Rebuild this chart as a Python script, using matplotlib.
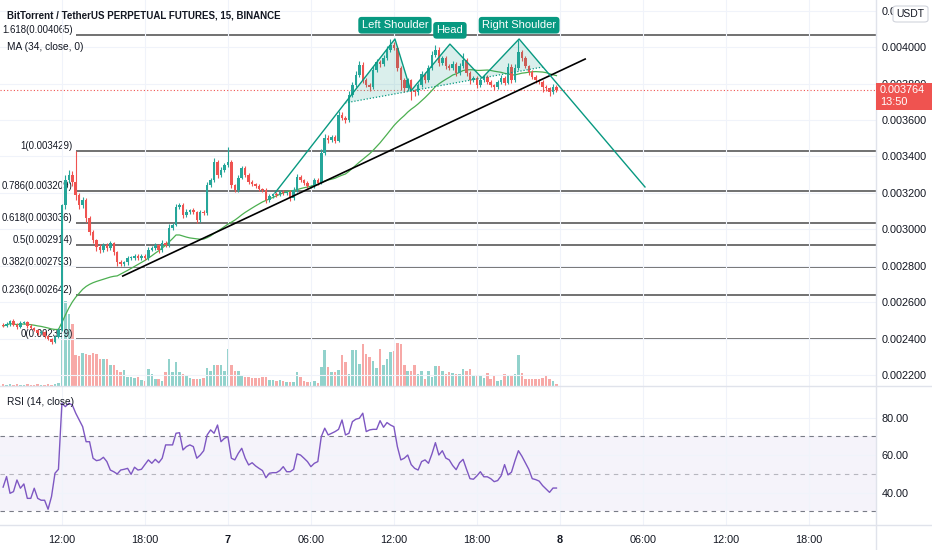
import numpy as np
import pandas as pd
import matplotlib
matplotlib.use("Agg")
import matplotlib.pyplot as plt
from matplotlib.lines import Line2D
from matplotlib.patches import Rectangle, FancyBboxPatch

plt.rcParams['font.family'] = ['Liberation Sans', 'DejaVu Sans']

# ---- data (15m candles, first candle 07:45 on the 6th) ----
first_hour = 7.75
bars_per_hour = 4

close = [
    0.002471, 0.002482, 0.002498, 0.002477, 0.002466, 0.002488, 0.002493, 0.002471, 0.002460, 0.002449,
    0.002433, 0.002438, 0.002416, 0.002400, 0.002383, 0.002411, 0.002449, 0.003134, 0.003271, 0.003299,
    0.003260, 0.003189, 0.003134, 0.003162, 0.003063, 0.002986, 0.002942, 0.002904, 0.002888, 0.002915,
    0.002899, 0.002926, 0.002877, 0.002822, 0.002811, 0.002822, 0.002844, 0.002844, 0.002855, 0.002844,
    0.002855, 0.002844, 0.002888, 0.002899, 0.002915, 0.002888, 0.002926, 0.002915, 0.003008, 0.003025,
    0.003123, 0.003134, 0.003079, 0.003096, 0.003107, 0.003096, 0.003052, 0.003096, 0.003090, 0.003244,
    0.003271, 0.003370, 0.003299, 0.003326, 0.003353, 0.003370, 0.003244, 0.003216, 0.003282, 0.003337,
    0.003299, 0.003260, 0.003249, 0.003238, 0.003222, 0.003216, 0.003162, 0.003183, 0.003194, 0.003189,
    0.003205, 0.003200, 0.003205, 0.003173, 0.003216, 0.003288, 0.003271, 0.003255, 0.003238, 0.003238,
    0.003271, 0.003255, 0.003419, 0.003501, 0.003490, 0.003507, 0.003485, 0.003627, 0.003611, 0.003600,
    0.003737, 0.003792, 0.003847, 0.003901, 0.003819, 0.003792, 0.003781, 0.003874, 0.003918, 0.003907,
    0.003940, 0.003984, 0.004011, 0.003995, 0.003885, 0.003819, 0.003775, 0.003819, 0.003759, 0.003753,
    0.003792, 0.003852, 0.003819, 0.003885, 0.003956, 0.003984, 0.003912, 0.003940, 0.003896, 0.003885,
    0.003907, 0.003858, 0.003896, 0.003929, 0.003858, 0.003819, 0.003830, 0.003792, 0.003819, 0.003836,
    0.003808, 0.003792, 0.003781, 0.003808, 0.003830, 0.003803, 0.003890, 0.003819, 0.003885, 0.003973,
    0.003940, 0.003896, 0.003863, 0.003836, 0.003819, 0.003808, 0.003781, 0.003775, 0.003753, 0.003781,
    0.003764,
]
first_open = 0.002477

# wick lengths beyond the body, in millionths
upper_wick = [
    8, 10, 6, 10, 8, 12, 6, 8, 10, 6, 8, 12, 6, 8, 6, 10, 12,
    8, 30, 25, 20, 169,
    10, 15, 8, 12, 10, 8, 15, 12, 10,
    12, 8, 6, 10, 8, 12, 8, 10, 8, 10,
    8, 15, 10, 12, 8, 15, 10, 20, 12, 15,
    12, 10, 15, 8, 10, 8, 12, 10, 15, 12,
    20, 12, 15, 10, 82, 10, 8, 15, 12, 10,
    8, 10, 8, 10, 8, 10, 12, 8, 10, 12,
    10, 8, 12, 15, 15, 10, 8, 10, 8, 12,
    10, 20, 25, 15, 12, 10, 20, 15, 12, 20,
    15, 20, 25, 15, 12, 10, 20, 15, 12, 15,
    20, 33, 15, 10, 12, 10, 12, 8, 10, 12,
    15, 12, 15, 20, 25, 15, 12, 10, 12, 15,
    10, 15, 38, 12, 10, 12, 10, 12, 10, 12,
    10, 8, 12, 15, 10, 20, 15, 20, 65, 12,
    10, 8, 10, 12, 8, 10, 10, 8, 15, 10,
]
lower_wick = [
    6, 8, 10, 8, 12, 6, 8, 10, 6, 8, 10, 8, 12, 8, 10, 6, 8,
    5, 20, 15, 20, 25,
    20, 15, 20, 15, 15, 20, 15, 12, 15,
    10, 15, 20, 12, 10, 15, 12, 10, 12, 10,
    12, 10, 8, 12, 15, 10, 12, 10, 12, 8,
    10, 15, 10, 12, 10, 15, 12, 10, 8, 10,
    10, 15, 12, 10, 12, 15, 12, 10, 8, 12,
    10, 12, 10, 12, 10, 15, 10, 12, 10, 8,
    12, 10, 15, 10, 8, 12, 10, 12, 10, 8,
    10, 8, 10, 15, 12, 10, 8, 12, 15, 10,
    10, 12, 10, 15, 12, 20, 10, 12, 15, 10,
    12, 10, 10, 15, 55, 20, 15, 49, 20, 15,
    10, 15, 12, 10, 12, 15, 12, 15, 12, 10,
    15, 12, 10, 15, 20, 12, 15, 10, 12, 10,
    12, 15, 10, 12, 10, 8, 15, 10, 12, 15,
    12, 15, 12, 15, 12, 25, 15, 20, 10, 12,
]

volume = [
    2, 1, 2, 1, 2, 1, 1, 2, 1, 1, 2, 1, 1, 2, 1, 2, 3,
    92, 85, 72, 62, 31,
    30, 33, 32, 31, 33, 32, 27, 27, 27,
    21, 21, 16, 14, 16, 9, 9, 8, 9, 6,
    5, 17, 12, 7, 7, 5, 14, 27, 14, 24,
    14, 12, 10, 8, 7, 7, 7, 8, 18, 15,
    21, 21, 21, 15, 37, 21, 15, 15, 11, 9,
    9, 8, 8, 8, 9, 9, 6, 6, 5, 6,
    5, 4, 4, 4, 14, 9, 5, 4, 4, 5,
    3, 19, 36, 19, 14, 14, 16, 31, 24, 12,
    36, 36, 22, 42, 32, 29, 25, 18, 37, 21,
    27, 34, 35, 43, 42, 21, 15, 15, 21, 12,
    15, 7, 15, 9, 20, 20, 15, 12, 14, 13,
    12, 12, 17, 15, 17, 11, 10, 11, 8, 13,
    7, 11, 5, 6, 12, 11, 10, 12, 31, 13,
    7, 7, 7, 7, 7, 8, 11, 7, 5, 2,
]

rsi = [
    43.0, 48.6, 39.7, 40.6, 46.8, 42.4, 44.7, 37.0, 37.0, 42.4,
    37.0, 36.0, 36.0, 31.2, 38.0, 50.4, 52.5, 87.7, 85.9, 87.7,
    86.8, 82.4, 78.8, 75.2, 67.2, 67.2, 58.4, 57.1, 57.5, 58.9,
    56.6, 52.1, 51.2, 50.0, 52.1, 52.5, 53.0, 49.8, 53.6, 52.1,
    52.5, 55.0, 57.5, 55.7, 57.8, 56.0, 58.4, 65.5, 65.5, 65.5,
    71.7, 72.0, 62.8, 64.6, 65.5, 64.6, 58.4, 60.1, 62.4, 70.8,
    73.5, 71.7, 76.1, 67.2, 69.0, 69.9, 58.4, 57.5, 61.0, 63.7,
    58.4, 54.8, 56.0, 54.3, 53.0, 51.8, 48.0, 50.4, 50.7, 50.7,
    51.8, 53.9, 51.2, 51.2, 52.5, 60.7, 60.1, 58.4, 56.6, 53.9,
    55.7, 56.6, 69.9, 74.4, 70.8, 71.7, 72.6, 73.8, 78.8, 70.8,
    71.7, 77.9, 79.2, 79.7, 82.4, 72.6, 73.5, 73.8, 73.8, 78.4,
    74.9, 77.4, 76.1, 75.2, 64.6, 57.5, 58.4, 60.1, 55.0, 53.0,
    52.1, 56.6, 57.5, 55.7, 60.7, 66.7, 60.1, 62.4, 58.5, 57.5,
    54.5, 52.3, 56.0, 57.8, 52.5, 47.5, 47.2, 49.0, 51.2, 48.5,
    48.5, 47.5, 45.9, 46.5, 49.0, 55.0, 49.5, 51.0, 57.0, 62.4,
    59.5, 56.0, 52.5, 47.5, 47.0, 46.2, 43.8, 42.0, 40.2, 42.5,
    42.5,
]

# fib retracement anchored on the swing high candle
fib_levels = ["0", "0.236", "0.382", "0.5", "0.618", "0.786", "1", "1.618"]
fib_prices = [0.002399, 0.002642, 0.002793, 0.002914, 0.003036, 0.003209, 0.003429, 0.004065]
fib_start = 21

# head & shoulders drawing (bar index, price)
hs_idx = [78.6, 113.3, 117.9, 129.2, 138.5, 149.2, 185.6]
hs_px = [0.003200, 0.004044, 0.003759, 0.004016, 0.003830, 0.004044, 0.003233]
hs_labels = ["Left Shoulder", "Head", "Right Shoulder"]

# rising trend line
trend_idx = [34.6, 168.3]
trend_px = [0.002745, 0.003934]

tick_hours = [12, 18, 24, 30, 36, 42, 48, 54, 60, 66]
tick_labels = ["12:00", "18:00", "7", "06:00", "12:00", "18:00", "8", "06:00", "12:00", "18:00"]
price_ticks = [0.0022, 0.0024, 0.0026, 0.0028, 0.0030, 0.0032, 0.0034, 0.0036, 0.0038, 0.0040, 0.0042]
rsi_ticks = [40, 60, 80]

UP = '#26a69a'
DOWN = '#ef5350'
PAT = '#089981'
GRID = '#f0f3fa'
SEP = '#e0e3eb'
TXT = '#131722'

# ---- derived series ----
close = np.array(close)
opens = np.r_[first_open, close[:-1]]
high = np.maximum(opens, close) + np.array(upper_wick) * 1e-6
low = np.minimum(opens, close) - np.array(lower_wick) * 1e-6
idx = np.arange(len(close))
is_up = close >= opens
colors = np.where(is_up, UP, DOWN)
vol_colors = np.where(is_up, '#92d2cc', '#f7a9a7')
ma = pd.Series(close).rolling(34, min_periods=1).mean()

W, H = 932, 550
fig = plt.figure(figsize=(W / 100, H / 100), dpi=100)


def frame(x0, y0, x1, y1):
    return [x0 / W, 1 - y1 / H, (x1 - x0) / W, (y1 - y0) / H]


ax = fig.add_axes(frame(0, 0, 876, 386))
ax_rsi = fig.add_axes(frame(0, 386, 876, 525), sharex=ax)
vol_ax = ax.twinx()
ax.set_zorder(vol_ax.get_zorder() + 1)
ax.patch.set_visible(False)

x_left, x_right = -0.9, 252.4
ax.set_xlim(x_left, x_right)
ax.set_ylim(0.0021423, 0.0042576)
ax_rsi.set_ylim(22.8, 96.9)

# volume
vol_ax.bar(idx, volume, width=0.72, color=vol_colors, linewidth=0)
vol_ax.set_ylim(0, max(volume) * 4.2)
vol_ax.set_yticks([])
for s in vol_ax.spines.values():
    s.set_visible(False)

# grid + ticks
tick_pos = [(h - first_hour) * bars_per_hour for h in tick_hours]
ax_rsi.set_xticks(tick_pos)
ax_rsi.set_xticklabels(tick_labels)
for lab, txt in zip(ax_rsi.get_xticklabels(), tick_labels):
    if ':' not in txt:
        lab.set_fontweight('bold')
ax.set_yticks(price_ticks)
ax.set_yticklabels([f"{p:.6f}" for p in price_ticks])
ax.yaxis.tick_right()
ax_rsi.set_yticks(rsi_ticks)
ax_rsi.set_yticklabels([f"{v:.2f}" for v in rsi_ticks])
ax_rsi.yaxis.tick_right()
for a in (ax, ax_rsi):
    a.grid(True, color=GRID, lw=0.8, zorder=0)
    a.tick_params(length=0, labelsize=7.8, colors=TXT, pad=4)
    for s in a.spines.values():
        s.set_visible(False)
ax.tick_params(labelbottom=False)
ax_rsi.tick_params(axis='x', pad=7)

# fib levels
ax.hlines(fib_prices, fib_start, x_right, colors='#4a4a4a', lw=1.1, zorder=1)
for lvl, p in zip(fib_levels, fib_prices):
    ax.text(fib_start - 0.9, p, f"{lvl}({p:.6f})", ha='right', va='bottom',
            fontsize=6.9, color=TXT, zorder=1.5)

# MA
ax.plot(idx, ma, color='#4caf50', lw=0.9, zorder=3)

# candles
ax.vlines(idx, low, high, colors=colors, lw=0.8, zorder=4)
body = np.maximum(np.abs(close - opens), 3e-6)
ax.bar(idx, body, bottom=np.minimum(opens, close), width=0.72, color=colors, linewidth=0, zorder=4)

# last price line
ax.axhline(close[-1], color=DOWN, ls=(0, (1, 2)), lw=0.8, zorder=2)

# trend line
ax.plot(trend_idx, trend_px, color='black', lw=1.2, zorder=5)


# head & shoulders
def intersect(p1, p2, p3, p4):
    (x1, y1), (x2, y2), (x3, y3), (x4, y4) = p1, p2, p3, p4
    d = (x1 - x2) * (y3 - y4) - (y1 - y2) * (x3 - x4)
    a = x1 * y2 - y1 * x2
    b = x3 * y4 - y3 * x4
    return ((a * (x3 - x4) - (x1 - x2) * b) / d, (a * (y3 - y4) - (y1 - y2) * b) / d)


pts = list(zip(hs_idx, hs_px))
ax.plot(hs_idx, hs_px, color=PAT, lw=1, zorder=5)
left_x = intersect(pts[0], pts[1], pts[2], pts[4])
right_x = intersect(pts[5], pts[6], pts[2], pts[4])
for tri in ([left_x, pts[1], pts[2]], [pts[2], pts[3], pts[4]], [pts[4], pts[5], right_x]):
    ax.fill([t[0] for t in tri], [t[1] for t in tri], color=PAT, alpha=0.15, lw=0, zorder=4.5)
ax.plot([left_x[0], right_x[0]], [left_x[1], right_x[1]], color=PAT, ls=(0, (1, 1.5)), lw=0.9, zorder=5)
for lab, k in zip(hs_labels, (1, 3, 5)):
    ax.annotate(lab, xy=pts[k], xytext=(0, 6.3), textcoords='offset points', ha='center', va='bottom',
                fontsize=8, color='white', zorder=6,
                bbox=dict(boxstyle='round,pad=0.3,rounding_size=0.3', fc=PAT, ec='none'))

# RSI pane
ax_rsi.axhspan(30, 70, color='#7e57c2', alpha=0.07, lw=0)
for lvl, al in ((70, 1.0), (50, 0.5), (30, 1.0)):
    ax_rsi.axhline(lvl, color='#787b86', ls=(0, (4, 4)), lw=0.8, alpha=al)
ax_rsi.plot(idx, rsi, color='#7e57c2', lw=1)

# separators
for y in (386, 525):
    fig.add_artist(Line2D([0, 1], [1 - y / H, 1 - y / H], color=SEP, lw=1))
fig.add_artist(Line2D([876 / W, 876 / W], [0, 1], color=SEP, lw=1))

# header texts
fig.text(7 / W, 1 - 15 / H, "BitTorrent / TetherUS PERPETUAL FUTURES, 15, BINANCE",
         fontsize=7.0, fontweight='bold', color=TXT, va='center')
fig.text(7 / W, 1 - 47 / H, "MA (34, close, 0)", fontsize=7.3, color=TXT, va='center')
fig.text(7 / W, 1 - 402 / H, "RSI (14, close)", fontsize=7.3, color=TXT, va='center')

# USDT button over the top tick
fig.add_artist(FancyBboxPatch((893 / W, 1 - 22 / H), 35 / W, 16 / H,
                              boxstyle='round,pad=0,rounding_size=0.004',
                              transform=fig.transFigure, fc='white', ec='#d1d4dc', lw=0.8,
                              zorder=10))
fig.text(910.5 / W, 1 - 14 / H, "USDT", fontsize=7.5, color=TXT, ha='center', va='center', zorder=11)

# last price tag
fig.canvas.draw()
ypix = ax.transData.transform((0, close[-1]))[1]
fig.add_artist(Rectangle((876 / W, (ypix - 20) / H), 56 / W, 27 / H,
                         transform=fig.transFigure, fc=DOWN, ec='none', zorder=10))
fig.text(880 / W, ypix / H, f"{close[-1]:.6f}", fontsize=7.8, color='white', va='center', zorder=11)
fig.text(880 / W, (ypix - 12) / H, "13:50", fontsize=7.8, color='white', va='center', zorder=11)

fig.savefig("out.png", dpi=100)
